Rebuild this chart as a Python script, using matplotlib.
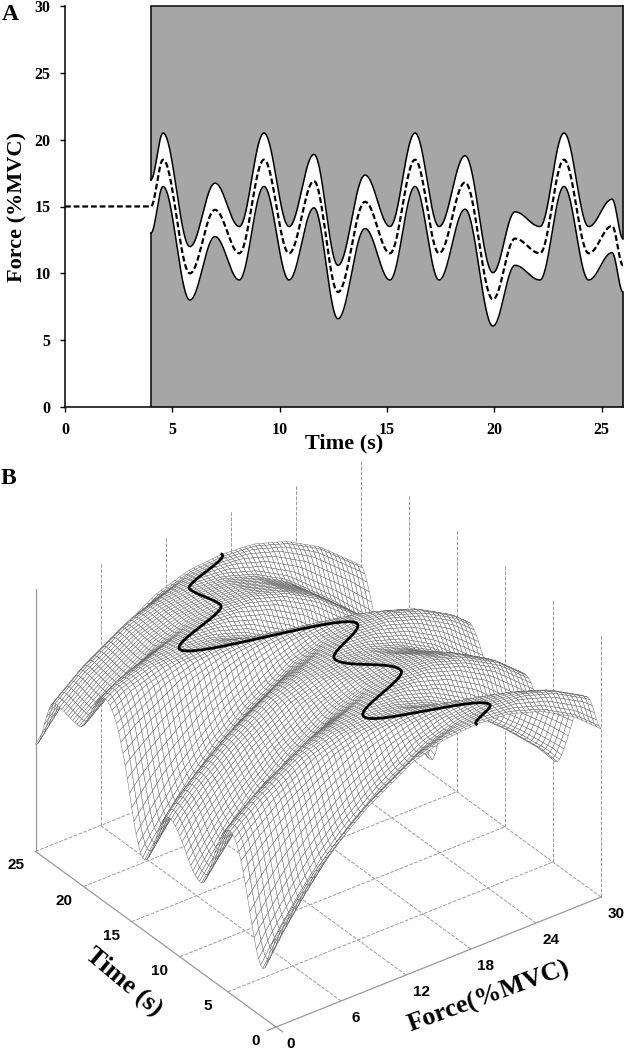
# -*- coding: utf-8 -*-
"""Target force with tolerance band (A) and the force-time surface around it (B)"""

import numpy as np
import matplotlib
matplotlib.use('Agg')
import matplotlib.pyplot as plt
from mpl_toolkits.mplot3d import proj3d

W, H = 627, 1050
GRAY = '#a6a6a6'
GRID = '#9a9a9a'

# panel A, turning points of the dashed target trace
target_time = [4.0, 4.57, 5.82, 6.99, 8.12, 9.27, 10.44, 11.6, 12.72, 13.98, 15.14, 16.31,
               17.43, 18.64, 19.94, 20.97, 22.13, 23.25, 24.4, 25.49, 26.0]
target_force = [15.0, 18.5, 10.0, 14.75, 11.5, 18.5, 11.5, 16.9, 8.6, 15.35, 11.5, 18.5,
                11.5, 16.8, 8.05, 12.6, 11.5, 18.5, 11.5, 13.55, 10.6]
band_halfwidth = 2.0
xticks_a = [0, 5, 10, 15, 20, 25]
yticks_a = [0, 5, 10, 15, 20, 25, 30]

# panel B, ridge of the surface read back from the black line
ridge_time = [0.0, 1.34, 4.8, 7.84, 11.14, 13.7, 17.78, 20.45, 22.95, 25.0]
ridge_force = [18.5, 20.9, 12.4, 18.42, 15.36, 19.6, 6.93, 13.0, 12.43, 17.2]
# height of the surface against distance from the ridge
bell_offset = [-21, -19, -17, -15, -13, -10, -6, -3, 0, 3, 6, 9, 11, 13, 16, 18, 20, 23]
bell_height = [18, 31, 42, 52, 60, 70, 80, 84, 85, 84, 80, 73, 66, 59, 47, 37, 26, 5]
force_ticks = [0, 6, 12, 18, 24, 30]
time_ticks = [0, 5, 10, 15, 20, 25]


def through_knots(x, xk, yk):
    """Rounded curve through turning points, flat at each knot"""
    idx = np.arange(len(xk))
    u = np.interp(x, xk, idx)
    i = np.floor(u)
    u = i + (1 - np.cos(np.pi * (u - i))) / 2
    return np.interp(u, idx, yk)


fig = plt.figure(figsize=(W / 100, H / 100), dpi=100)

# ---------- panel A ----------
ax = fig.add_axes([65 / W, (H - 407) / H, 558 / W, 401 / H])
t = np.linspace(4, 26, 1500)
mid = through_knots(t, target_time, target_force)
up = mid + band_halfwidth
low = mid - band_halfwidth
# the band only starts at 4 s, at 15 +- 2
ax.fill_between(t, up, 30, color=GRAY, lw=0)
ax.fill_between(t, 0, low, color=GRAY, lw=0)
ax.plot(t, up, color='k', lw=1.1)
ax.plot(t, low, color='k', lw=1.1)
ax.plot([0] + list(t), [15] + list(mid), color='k', lw=1.6, dashes=(2.6, 1.3))
ax.plot([4, 26], [30, 30], color='k', lw=1.1, clip_on=False)
ax.plot([4, 4], [0, low[0]], color='k', lw=1.1)
ax.plot([4, 4], [up[0], 30], color='k', lw=1.1)
ax.plot([26, 26], [0, low[-1]], color='k', lw=1.1, clip_on=False)
ax.plot([26, 26], [up[-1], 30], color='k', lw=1.1, clip_on=False)
ax.set_xlim(0, 26)
ax.set_ylim(0, 30)
ax.set_xticks(xticks_a)
ax.set_yticks(yticks_a)
ax.tick_params(direction='out', length=3.5, width=1, pad=7)
for lab in ax.get_xticklabels() + ax.get_yticklabels():
    lab.set_fontfamily('Liberation Serif')
    lab.set_fontweight('bold')
    lab.set_fontsize(11.5)
ax.spines['top'].set_visible(False)
ax.spines['right'].set_visible(False)
ax.spines['left'].set_linewidth(1.1)
ax.spines['bottom'].set_linewidth(1.1)

serif = dict(family='Liberation Serif', fontweight='bold')
fig.text(344 / W, 1 - 443 / H, 'Time (s)', ha='center', va='center', fontsize=16, **serif)
fig.text(17 / W, 1 - 207 / H, 'Force (%MVC)', ha='center', va='center', rotation=90,
         fontsize=16, **serif)
fig.text(10 / W, 1 - 14 / H, 'A', ha='center', va='center', fontsize=17, **serif)
fig.text(8 / W, 1 - 478 / H, 'B', ha='center', va='center', fontsize=17, **serif)

# ---------- panel B ----------
ax3 = fig.add_axes([0, 0, 1, 1], projection='3d', proj_type='ortho', computed_zorder=False)
ax3.set_xlim(0, 30)
ax3.set_ylim(0, 25)
ax3.set_zlim(0, 100)
ax3.set_box_aspect((1, 1, 0.77))
ax3.view_init(elev=32.7, azim=-126.5)
ax3.set_axis_off()
ax3.patch.set_visible(False)


def to_px(f, tm, z=0):
    x, y, _ = proj3d.proj_transform(f, tm, z, ax3.get_proj())
    return ax3.transData.transform((x, y))


# fit the box so its base corners land where the reference has them
ax3.apply_aspect()
size = W * 325 / (to_px(30, 0)[0] - to_px(0, 0)[0])
ax3.set_position([0, 0, size / W, size / H])
ax3.apply_aspect()
size = size * 325 / (to_px(30, 0)[0] - to_px(0, 0)[0])
ax3.set_position([0, 0, size / W, size / H])
ax3.apply_aspect()
org = to_px(0, 0)
ax3.set_position([(276 - org[0]) / W, (H - 1027 - org[1]) / H, size / W, size / H])
ax3.apply_aspect()

for f in force_ticks[1:]:
    ax3.plot([f, f], [0, 25], [0, 0], color=GRID, lw=0.7, ls='--', zorder=1)
    ax3.plot([f, f], [25, 25], [0, 100], color=GRID, lw=0.7, ls='--', zorder=1)
for tm in time_ticks[1:]:
    ax3.plot([0, 30], [tm, tm], [0, 0], color=GRID, lw=0.7, ls='--', zorder=1)
for tm in time_ticks[:-1]:
    ax3.plot([30, 30], [tm, tm], [0, 100], color=GRID, lw=0.7, ls='--', zorder=1)
ax3.plot([-0.8, 30], [0, 0], [0, 0], color=GRID, lw=0.9, zorder=1)
ax3.plot([0, 0], [-0.7, 25], [0, 0], color=GRID, lw=0.9, zorder=1)
ax3.plot([0, 0], [25, 25], [0, 100], color=GRID, lw=0.9, zorder=1)

force_grid = np.linspace(0, 30, 71)
time_grid = np.linspace(0, 25, 111)
F, T = np.meshgrid(force_grid, time_grid)
centre = through_knots(T, ridge_time, ridge_force)
Z = np.interp(F - centre, bell_offset, bell_height)
ax3.plot_surface(F, T, Z, rstride=1, cstride=1, color='white', shade=False,
                 edgecolor='#5a5a5a', linewidth=0.3, zorder=2)

fine_time = np.linspace(0, 25, 800)
ax3.plot(through_knots(fine_time, ridge_time, ridge_force), fine_time,
         np.full(fine_time.shape, max(bell_height)), color='k', lw=2.0, zorder=3)

sans = dict(family='Liberation Sans', fontweight='bold', fontsize=11, ha='center', va='center',
            annotation_clip=False)
for tm in time_ticks:
    ax3.annotate(str(tm), to_px(0, tm), xycoords='figure pixels', xytext=(-20, -14),
                 textcoords='offset pixels', **sans)
for f in force_ticks:
    ax3.annotate(str(f), to_px(f, 0), xycoords='figure pixels', xytext=(15, -17),
                 textcoords='offset pixels', **sans)

fig.text(124 / W, 1 - 982 / H, 'Time (s)', rotation=-40, ha='center', va='center',
         rotation_mode='anchor', fontsize=19, **serif)
fig.text(489 / W, 1 - 997 / H, 'Force(%MVC)', rotation=20, ha='center', va='center',
         rotation_mode='anchor', fontsize=19, **serif)

fig.savefig('out.png', dpi=100)
